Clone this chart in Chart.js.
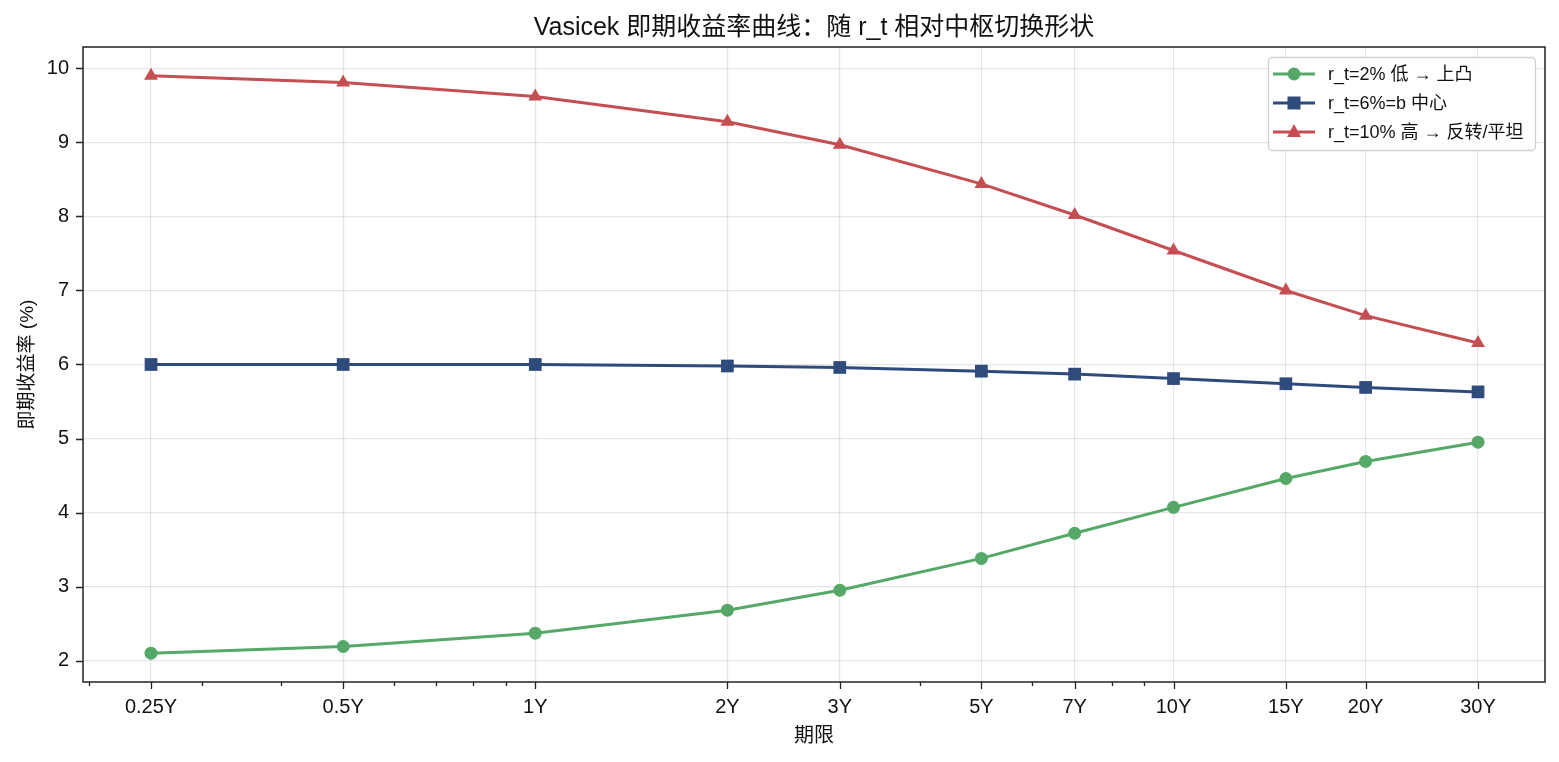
<!DOCTYPE html>
<html>
<head>
<meta charset="utf-8">
<script src="https://cdn.jsdelivr.net/npm/chart.js@4.4.1/dist/chart.umd.min.js"></script>
<style>
  html, body { margin: 0; padding: 0; background: #fff; }
  #wrap { width: 1559px; height: 762px; }
</style>
</head>
<body>
<div id="wrap"><canvas id="grafico"></canvas></div>
<script>
// Dados do gráfico
const prazos = [0.25, 0.5, 1, 2, 3, 5, 7, 10, 15, 20, 30];
const rotulosPrazo = ["0.25Y", "0.5Y", "1Y", "2Y", "3Y", "5Y", "7Y", "10Y", "15Y", "20Y", "30Y"];
const curvaBaixa = [2.10, 2.19, 2.37, 2.68, 2.95, 3.38, 3.72, 4.07, 4.46, 4.69, 4.95];
const curvaCentro = [6.00, 6.00, 6.00, 5.98, 5.96, 5.91, 5.87, 5.81, 5.74, 5.69, 5.63];
const curvaAlta = [9.90, 9.81, 9.62, 9.28, 8.97, 8.44, 8.02, 7.54, 7.00, 6.66, 6.29];
const nomesSeries = ["r_t=2% 低 → 上凸", "r_t=6%=b 中心", "r_t=10% 高 → 反转/平坦"];
const ticksMenores = [0.2, 0.3, 0.4, 0.6, 0.7, 0.8, 0.9, 4, 6, 8, 9];
const ticksY = [2, 3, 4, 5, 6, 7, 8, 9, 10];
const titulo = "Vasicek 即期收益率曲线：随 r_t 相对中枢切换形状";

const fonte = "'Liberation Sans', Arial, 'Noto Sans CJK SC', sans-serif";
const cores = ["#55a868", "#2f4b7c", "#c44e52"];
const marcadores = ["circle", "rect", "triangle"];
const raios = [6.5, 9, 8];

function pontos(valores) {
  return prazos.map((x, i) => ({ x: x, y: valores[i] }));
}

const series = [curvaBaixa, curvaCentro, curvaAlta].map((v, i) => ({
  label: nomesSeries[i],
  data: pontos(v),
  borderColor: cores[i],
  backgroundColor: cores[i],
  borderWidth: 3,
  pointStyle: marcadores[i],
  pointRadius: raios[i],
  pointHoverRadius: raios[i],
  pointBorderWidth: 0,
  tension: 0
}));

// Título, moldura, marcas dos eixos e legenda desenhadas à mão
const extras = {
  id: "extras",
  afterDraw(chart) {
    const ctx = chart.ctx;
    const a = chart.chartArea;
    const sx = chart.scales.x, sy = chart.scales.y;
    ctx.save();

    ctx.fillStyle = "#111";
    ctx.font = "25px " + fonte;
    ctx.textAlign = "center";
    ctx.textBaseline = "middle";
    ctx.fillText(titulo, (a.left + a.right) / 2, 28);
    ctx.textAlign = "left";

    ctx.strokeStyle = "#222";
    ctx.lineWidth = 1.5;
    ctx.strokeRect(a.left, a.top, a.right - a.left, a.bottom - a.top);

    ctx.lineWidth = 1.3;
    ctx.beginPath();
    prazos.forEach(v => {
      const px = Math.round(sx.getPixelForValue(v)) + 0.5;
      ctx.moveTo(px, a.bottom); ctx.lineTo(px, a.bottom + 7);
    });
    ticksMenores.forEach(v => {
      const px = Math.round(sx.getPixelForValue(v)) + 0.5;
      ctx.moveTo(px, a.bottom); ctx.lineTo(px, a.bottom + 4);
    });
    ticksY.forEach(v => {
      const py = Math.round(sy.getPixelForValue(v)) + 0.5;
      ctx.moveTo(a.left - 7, py); ctx.lineTo(a.left, py);
    });
    ctx.stroke();

    // legenda
    const lx = 1268, ly = 57, lw = 267, lh = 93;
    ctx.fillStyle = "rgba(255,255,255,0.85)";
    ctx.strokeStyle = "#d0d0d0";
    ctx.lineWidth = 1.3;
    ctx.beginPath();
    ctx.roundRect(lx + 0.5, ly + 0.5, lw, lh, 4);
    ctx.fill();
    ctx.stroke();
    ctx.font = "18px " + fonte;
    ctx.textBaseline = "middle";
    nomesSeries.forEach((nome, i) => {
      const y = ly + 17 + i * 29;
      ctx.strokeStyle = cores[i];
      ctx.fillStyle = cores[i];
      ctx.lineWidth = 3;
      ctx.beginPath();
      ctx.moveTo(lx + 5, y); ctx.lineTo(lx + 47, y);
      ctx.stroke();
      const cx = lx + 26;
      ctx.beginPath();
      if (i === 0) ctx.arc(cx, y, 6.5, 0, Math.PI * 2);
      else if (i === 1) ctx.rect(cx - 6.5, y - 6.5, 13, 13);
      else { ctx.moveTo(cx, y - 8); ctx.lineTo(cx + 7, y + 5); ctx.lineTo(cx - 7, y + 5); ctx.closePath(); }
      ctx.fill();
      ctx.fillStyle = "#111";
      ctx.fillText(nome, lx + 60, y + 1);
    });
    ctx.restore();
  }
};

new Chart(document.getElementById("grafico"), {
  type: "line",
  data: { datasets: series },
  plugins: [extras],
  options: {
    responsive: true,
    maintainAspectRatio: false,
    animation: false,
    layout: { padding: { left: 0, right: 14, top: 47, bottom: 0 } },
    plugins: {
      legend: { display: false },
      tooltip: { enabled: false },
      title: { display: false }
    },
    scales: {
      x: {
        type: "logarithmic",
        min: 0.1956,
        max: 38.2,
        afterBuildTicks(scale) {
          scale.ticks = prazos.concat(ticksMenores).sort((p, q) => p - q).map(v => ({ value: v }));
        },
        afterFit(scale) { scale.height = 80; },
        ticks: {
          autoSkip: false,
          maxRotation: 0,
          color: "#111",
          padding: 6,
          font: { family: fonte, size: 20 },
          callback(value) {
            const i = prazos.indexOf(value);
            return i >= 0 ? rotulosPrazo[i] : "";
          }
        },
        grid: {
          color: ctx => (ctx.tick && prazos.includes(ctx.tick.value)) ? "rgba(0,0,0,0.1)" : "rgba(0,0,0,0)",
          tickColor: "rgba(0,0,0,0)",
          tickLength: 7,
          lineWidth: 1.2
        },
        border: { display: false },
        title: {
          display: true,
          text: "期限",
          color: "#111",
          font: { family: fonte, size: 20 },
          padding: { top: 0, bottom: 14 }
        }
      },
      y: {
        type: "linear",
        min: 1.71,
        max: 10.29,
        afterBuildTicks(scale) {
          scale.ticks = ticksY.map(v => ({ value: v }));
        },
        afterFit(scale) { scale.width = 83; },
        ticks: {
          color: "#111",
          padding: 7,
          font: { family: fonte, size: 20 }
        },
        grid: {
          color: "rgba(0,0,0,0.1)",
          tickColor: "rgba(0,0,0,0)",
          tickLength: 7,
          lineWidth: 1.2
        },
        border: { display: false },
        title: {
          display: true,
          text: "即期收益率 (%)",
          color: "#111",
          font: { family: fonte, size: 19 },
          padding: { top: 16, bottom: 0 }
        }
      }
    }
  }
});
</script>
</body>
</html>
